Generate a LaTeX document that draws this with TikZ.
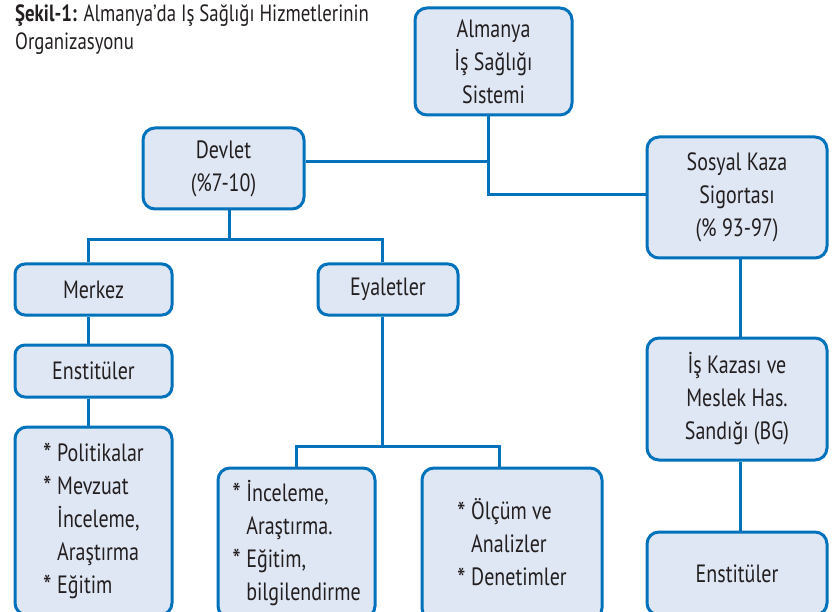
\documentclass[tikz,border=0pt]{standalone}
\usepackage{fontspec}
\setmainfont{PT Sans}[FakeStretch=0.8]
\definecolor{orgblue}{RGB}{0,114,188}
\definecolor{orgfill}{RGB}{223,231,244}
\definecolor{txt}{RGB}{35,31,32}
% bullet with hanging indent for the list boxes
\newcommand\itm{\makebox[14pt][l]{\raisebox{-3.5pt}{\scalebox{1.2}{*}}}}
\newcommand\cnt{\hspace*{14pt}}
\begin{document}
\begin{tikzpicture}[x=1pt,y=-1pt,
  box/.style={draw=orgblue, fill=orgfill, line width=3pt, rounded corners=12pt,
    inner sep=0pt, align=center, text=txt, font=\fontsize{25}{33}\selectfont},
  listbox/.style={box, align=left},
  link/.style={draw=orgblue, line width=3pt, line join=miter},
  ttl/.style={anchor=base west, inner sep=0pt, text=txt, font=\fontsize{23.5}{28}\selectfont}]
\useasboundingbox (0,0) rectangle (832,612);
\clip (0,0) rectangle (832,612);

% title
\node[ttl] (t1) at (15,22) {\textbf{Şekil-1:} Almanya'da Iş Sağlığı Hizmetlerinin};
\node[ttl] (t2) at (15,50) {Organizasyonu};

% boxes
\node[box, minimum width=157pt, minimum height=107pt] (alm) at (493.5,61.5) {Almanya\\İş Sağlığı\\Sistemi};
\node[box, minimum width=180pt, minimum height=121pt] (sos) at (737,197.5) {Sosyal Kaza\\Sigortası\\(\% 93-97)};
\node[box, minimum width=161pt, minimum height=81pt] (dev) at (223.5,168.5) {Devlet\\(\%7-10)};
\node[box, minimum width=157pt, minimum height=51pt, rounded corners=10pt] (mer) at (93.5,289.5) {Merkez};
\node[box, minimum width=140pt, minimum height=51pt, rounded corners=10pt] (eya) at (388,289.5) {Eyaletler};
\node[box, minimum width=157pt, minimum height=52pt, rounded corners=10pt] (ensL) at (93.5,371) {Enstitüler};
\node[listbox, minimum width=157pt, minimum height=188pt] (pol) at (93.5,521)
  {\itm Politikalar\\\itm Mevzuat\\\cnt İnceleme,\\\cnt Araştırma\\\itm Eğitim};
\node[listbox, minimum width=157pt, minimum height=150pt] (inc) at (296.5,543)
  {\itm İnceleme,\\\cnt Araştırma.\\\itm Eğitim,\\\cnt bilgilendirme};
\node[listbox, minimum width=180pt, minimum height=152pt] (olc) at (512,544)
  {\itm Ölçüm ve\\\cnt Analizler\\\itm Denetimler};
\node[box, minimum width=180pt, minimum height=122pt] (isk) at (737,399) {İş Kazası ve\\Meslek Has.\\Sandığı (BG)};
\node[box, minimum width=180pt, minimum height=83pt] (ensR) at (737,573.5) {Enstitüler};

% junction points of the connectors
\coordinate (jT) at (488,162);
\coordinate (jR) at (488,195);
\coordinate (jD) at (229,240);
\coordinate (xM) at (88,0);
\coordinate (xE) at (382,0);
\coordinate (jE) at (382,446);
\coordinate (xI) at (296,0);
\coordinate (xO) at (499,0);
\coordinate (xS) at (740,0);

% connectors
\draw[link] (alm.south -| jR) -- (jR) -- (sos.west |- jR);
\draw[link] (dev.east |- jT) -- (jT);
\draw[link] (dev.south -| jD) -- (jD);
\draw[link] (mer.north -| xM) -- (xM |- jD) -- (xE |- jD) -- (eya.north -| xE);
\draw[link] (mer.south -| xM) -- (ensL.north -| xM);
\draw[link] (ensL.south -| xM) -- (pol.north -| xM);
\draw[link] (eya.south -| xE) -- (jE);
\draw[link] (inc.north -| xI) -- (xI |- jE) -- (xO |- jE) -- (olc.north -| xO);
\draw[link] (sos.south -| xS) -- (isk.north -| xS);
\draw[link] (isk.south -| xS) -- (ensR.north -| xS);
\end{tikzpicture}
\end{document}
